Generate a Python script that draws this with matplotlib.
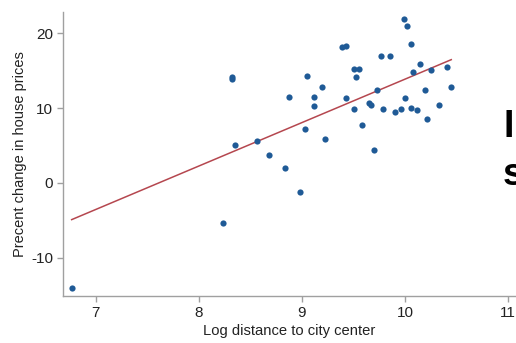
import numpy as np
import matplotlib
matplotlib.use("Agg")
import matplotlib.pyplot as plt

plt.rcParams['font.family'] = ['Liberation Sans', 'DejaVu Sans']
plt.rcParams['axes.unicode_minus'] = False

log_dist = [6.767, 8.319, 8.325, 8.351, 8.567, 8.238, 8.684, 8.836, 8.878, 9.033,
            9.046, 9.120, 9.117, 9.192, 9.227, 9.389, 9.431, 9.428, 9.502, 9.551,
            9.525, 9.502, 9.580, 9.654, 9.667, 9.699, 9.725, 8.982, 9.764, 9.855,
            9.784, 9.906, 9.964, 9.993, 10.016, 10.055, 9.997, 10.061, 10.116, 10.081,
            10.146, 10.194, 10.210, 10.249, 10.333, 10.407, 10.449]
pct_change = [-14.1, 14.1, 13.84, 5.05, 5.58, -5.35, 3.75, 1.97, 11.5, 7.23,
              14.28, 11.5, 10.22, 12.81, 5.81, 18.17, 18.34, 11.3, 15.22, 15.22,
              14.15, 9.87, 7.68, 10.63, 10.36, 4.38, 12.41, -1.2, 17.0, 17.0,
              9.87, 9.46, 9.83, 21.87, 21.02, 18.53, 11.34, 9.96, 9.77, 14.78,
              15.93, 12.37, 8.53, 15.13, 10.36, 15.45, 12.77]
x_ticks = [7, 8, 9, 10, 11]
y_ticks = [-10, 0, 10, 20]

x = np.array(log_dist)
y = np.array(pct_change)
slope, intercept = np.polyfit(x, y, 1)

fig = plt.figure(figsize=(5.16, 3.43), dpi=100)
ax = fig.add_axes([0.1227, 0.138, 0.8773, 0.826])

ax.scatter(x, y, s=20, color='#1f5a96', zorder=3, linewidths=0)
xl = np.array([x.min(), x.max()])
ax.plot(xl, intercept + slope * xl, color='#b5474f', lw=1.1, zorder=2)

ax.set_xlim(6.686, 11.077)
ax.set_ylim(-15.1, 22.8)
ax.set_xticks(x_ticks)
ax.set_yticks(y_ticks)
for s in ['top', 'right']:
    ax.spines[s].set_visible(False)
for s in ['left', 'bottom']:
    ax.spines[s].set_color('#a0a0a0')
    ax.spines[s].set_linewidth(1.0)
ax.tick_params(colors='#a0a0a0', labelcolor='#222222', labelsize=11, length=4, width=1)
ax.set_xlabel('Log distance to city center', fontsize=10.6, color='#222222', labelpad=3)
ax.set_ylabel('Precent change in house prices', fontsize=10.5, color='#222222', labelpad=2.5)

fig.text(0.975, 0.63, 'I', fontsize=27, fontweight='bold', color='black', va='center', ha='left')
fig.text(0.975, 0.49, 's', fontsize=27, fontweight='bold', color='black', va='center', ha='left')

fig.savefig('out.png', dpi=100)
